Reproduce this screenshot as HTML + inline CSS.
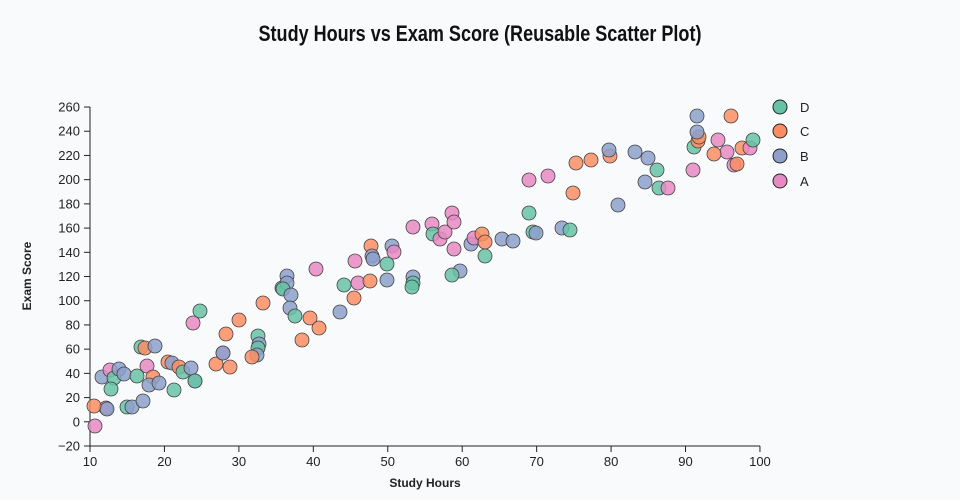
<!DOCTYPE html>
<html><head><meta charset="utf-8"><style>
html,body{margin:0;padding:0;background:#f8fafc;}
svg{display:block;font-family:"Liberation Sans",sans-serif;}
</style></head><body>
<svg id="s" width="960" height="500" xmlns="http://www.w3.org/2000/svg">
<rect width="960" height="500" fill="#f8fafc"/>
<text x="480" y="41" text-anchor="middle" font-size="22" font-weight="bold" fill="#111" transform="translate(480,0) scale(0.82,1) translate(-480,0)">Study Hours vs Exam Score (Reusable Scatter Plot)</text>
<g id="ax" stroke="#222" fill="none"></g>
<g id="lbl" font-size="13" fill="#222"></g>
<text x="425" y="487" text-anchor="middle" font-size="12" font-weight="bold" fill="#222">Study Hours</text>
<text transform="translate(31,276) rotate(-90)" text-anchor="middle" font-size="12" font-weight="bold" fill="#222">Exam Score</text>
<g id="pts" stroke="#444" stroke-width="0.8" fill-opacity="0.85"></g>
<g font-size="13" fill="#222">
<circle cx="780" cy="107" r="7" fill="#66c2a5" stroke="#222"/><text x="800" y="112">D</text>
<circle cx="780" cy="131" r="7" fill="#fc8d62" stroke="#222"/><text x="800" y="136">C</text>
<circle cx="780" cy="156" r="7" fill="#8da0cb" stroke="#222"/><text x="800" y="161">B</text>
<circle cx="780" cy="181" r="7" fill="#e78ac3" stroke="#222"/><text x="800" y="186">A</text>
</g>
</svg>
<script>
var NS="http://www.w3.org/2000/svg";
function el(p,t,a,txt){var e=document.createElementNS(NS,t);for(var k in a)e.setAttribute(k,a[k]);if(txt!=null)e.textContent=txt;document.getElementById(p).appendChild(e);}
el("ax","line",{x1:90,y1:107,x2:90,y2:446});
el("ax","line",{x1:90,y1:446,x2:760,y2:446});
for(var v=-20;v<=260;v+=20){var y=421.8-v*1.2107;el("ax","line",{x1:84,y1:y,x2:90,y2:y});el("lbl","text",{x:80,y:y+4.5,"text-anchor":"end"},v===-20?"−20":String(v));}
for(var v=10;v<=100;v+=10){var x=90+(v-10)*7.444;el("ax","line",{x1:x,y1:446,x2:x,y2:452});el("lbl","text",{x:x,y:466,"text-anchor":"middle"},String(v));}
var C={D:"#66c2a5",C:"#fc8d62",B:"#8da0cb",A:"#e78ac3"};
var P=[
["A",95,426],["A",106,408],["B",107,409],["C",94,406],["B",102,377],["A",110,370],["D",114,378],["D",111,389],["B",119,369],["B",124,374],["D",127,407],["B",132,407],["D",137,376],["B",143,401],["D",141,347],["C",145,348],["B",155,346],["A",147,366],["C",153,377],["B",149,385],["B",159,383],["D",174,390],["C",168,362],["B",172,363],["C",179,367],["D",183,372],["B",191,368],["B",195,381],["D",195,381],["A",193,323],["D",200,311],["C",216,364],["C",230,367],["A",223,353],["B",223,353],["C",226,334],["C",239,320],["C",263,303],["D",258,336],["B",259,344],["D",258,348],["B",257,355],["C",252,357],
["D",282,288],["B",287,276],["B",287,283],["D",283,289],["B",291,295],["B",290,308],["D",295,316],["C",310,318],["C",319,328],["C",302,340],["A",316,269],["D",344,285],["A",358,283],["C",370,281],["B",387,280],["B",340,312],["C",354,298],["A",355,261],["C",371,246],["B",372,256],["B",373,259],["B",392,246],["A",394,252],["D",387,264],["B",413,277],["D",413,283],["D",412,287],["A",413,227],["A",432,224],["D",433,234],["A",440,239],["A",445,232],["A",452,213],["A",454,222],["A",454,249],["B",460,271],["D",452,275],["B",471,244],["A",474,238],["C",482,234],["C",485,242],["D",485,256],["B",502,239],["B",513,241],["D",529,213],["D",533,232],["B",536,233],
["A",529,180],["A",548,176],["C",576,163],["C",591,160],["C",573,193],["B",562,228],["D",570,230],["C",610,156],["B",609,150],["B",635,152],["B",648,158],["D",657,170],["B",645,182],["D",659,188],["A",668,188],["B",618,205],["A",693,170],["D",694,147],["C",698,141],["C",699,137],["B",697,132],["B",697,116],["C",731,116],["A",718,140],["A",727,152],["C",714,154],["C",742,148],["A",750,148],["D",753,140],["A",734,165],["C",737,164]];
P.forEach(function(p){el("pts","circle",{cx:p[1],cy:p[2],r:7,fill:C[p[0]]});});
</script>
</body></html>
